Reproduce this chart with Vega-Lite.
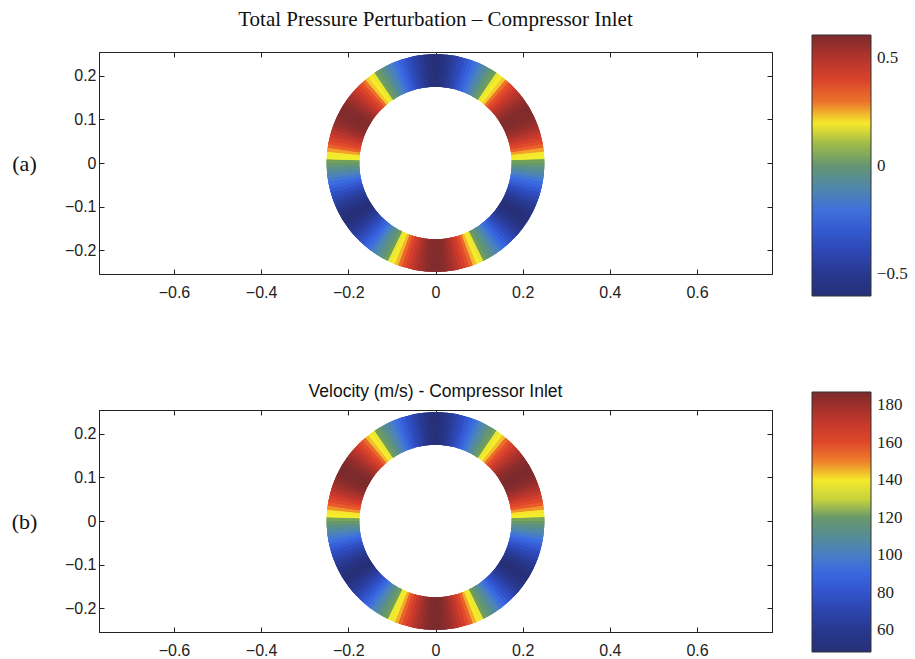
{
  "$schema": "https://vega.github.io/schema/vega-lite/v6.json",
  "background": "white",
  "padding": {"left": 10, "top": 8, "right": 5, "bottom": 2},
  "config": {
    "view": {"stroke": "#222", "strokeWidth": 1},
    "axis": {"grid": false, "domainColor": "#222", "tickColor": "#222", "labelFont": "Liberation Sans", "labelFontSize": 16, "labelColor": "#222", "tickSize": -5},
    "legend": {"labelFont": "Liberation Serif", "labelFontSize": 17, "labelColor": "#222"}
  },
  "datasets": {
    "ring": [
      {"a":0,"b":2,"p":-0.594,"v":49.2},{"a":2,"b":4,"p":-0.570,"v":52.0},{"a":4,"b":6,"p":-0.540,"v":55.4},{"a":6,"b":8,"p":-0.505,"v":59.5},
      {"a":8,"b":10,"p":-0.467,"v":63.9},{"a":10,"b":12,"p":-0.428,"v":68.4},{"a":12,"b":14,"p":-0.388,"v":73.0},{"a":14,"b":16,"p":-0.347,"v":77.7},
      {"a":16,"b":18,"p":-0.305,"v":82.6},{"a":18,"b":20,"p":-0.262,"v":87.5},{"a":20,"b":22,"p":-0.218,"v":92.6},{"a":22,"b":24,"p":-0.173,"v":97.8},
      {"a":24,"b":26,"p":-0.126,"v":103.2},{"a":26,"b":28,"p":-0.085,"v":107.9},{"a":28,"b":30,"p":-0.040,"v":113.1},{"a":30,"b":32,"p":0.008,"v":118.7},
      {"a":32,"b":34,"p":0.069,"v":125.7},{"a":34,"b":36,"p":0.129,"v":132.6},{"a":36,"b":38,"p":0.188,"v":139.5},{"a":38,"b":40,"p":0.245,"v":146.0},
      {"a":40,"b":42,"p":0.300,"v":152.4},{"a":42,"b":44,"p":0.351,"v":158.3},{"a":44,"b":46,"p":0.399,"v":163.8},{"a":46,"b":48,"p":0.443,"v":168.9},
      {"a":48,"b":50,"p":0.482,"v":173.4},{"a":50,"b":52,"p":0.516,"v":177.3},{"a":52,"b":54,"p":0.544,"v":180.5},{"a":54,"b":56,"p":0.567,"v":183.2},
      {"a":56,"b":58,"p":0.584,"v":185.1},{"a":58,"b":60,"p":0.595,"v":186.4},{"a":60,"b":62,"p":0.600,"v":187.0},{"a":62,"b":64,"p":0.598,"v":186.8},
      {"a":64,"b":66,"p":0.590,"v":185.8},{"a":66,"b":68,"p":0.576,"v":184.2},{"a":68,"b":70,"p":0.555,"v":181.8},{"a":70,"b":72,"p":0.528,"v":178.7},
      {"a":72,"b":74,"p":0.496,"v":175.0},{"a":74,"b":76,"p":0.458,"v":170.6},{"a":76,"b":78,"p":0.416,"v":165.8},{"a":78,"b":80,"p":0.369,"v":160.3},
      {"a":80,"b":82,"p":0.318,"v":154.5},{"a":82,"b":84,"p":0.263,"v":148.1},{"a":84,"b":86,"p":0.206,"v":141.5},{"a":86,"b":88,"p":0.146,"v":134.6},
      {"a":88,"b":90,"p":0.085,"v":127.6},{"a":90,"b":92,"p":0.015,"v":119.5},{"a":92,"b":94,"p":-0.040,"v":113.1},{"a":94,"b":96,"p":-0.079,"v":108.6},
      {"a":96,"b":98,"p":-0.126,"v":103.2},{"a":98,"b":100,"p":-0.173,"v":97.8},{"a":100,"b":102,"p":-0.218,"v":92.6},{"a":102,"b":104,"p":-0.262,"v":87.5},
      {"a":104,"b":106,"p":-0.305,"v":82.6},{"a":106,"b":108,"p":-0.347,"v":77.7},{"a":108,"b":110,"p":-0.388,"v":73.0},{"a":110,"b":112,"p":-0.428,"v":68.4},
      {"a":112,"b":114,"p":-0.467,"v":63.9},{"a":114,"b":116,"p":-0.505,"v":59.5},{"a":116,"b":118,"p":-0.540,"v":55.4},{"a":118,"b":120,"p":-0.570,"v":52.0},
      {"a":120,"b":122,"p":-0.594,"v":49.2},{"a":122,"b":124,"p":-0.594,"v":49.2},{"a":124,"b":126,"p":-0.568,"v":52.2},{"a":126,"b":128,"p":-0.535,"v":56.0},
      {"a":128,"b":130,"p":-0.497,"v":60.4},{"a":130,"b":132,"p":-0.457,"v":65.0},{"a":132,"b":134,"p":-0.415,"v":69.9},{"a":134,"b":136,"p":-0.371,"v":74.9},
      {"a":136,"b":138,"p":-0.326,"v":80.1},{"a":138,"b":140,"p":-0.280,"v":85.4},{"a":140,"b":142,"p":-0.233,"v":90.9},{"a":142,"b":144,"p":-0.184,"v":96.5},
      {"a":144,"b":146,"p":-0.134,"v":102.3},{"a":146,"b":148,"p":-0.087,"v":107.7},{"a":148,"b":150,"p":-0.043,"v":112.8},{"a":150,"b":152,"p":0.000,"v":117.8},
      {"a":152,"b":154,"p":0.065,"v":125.3},{"a":154,"b":156,"p":0.129,"v":132.6},{"a":156,"b":158,"p":0.192,"v":139.9},{"a":158,"b":160,"p":0.252,"v":146.8},
      {"a":160,"b":162,"p":0.309,"v":153.4},{"a":162,"b":164,"p":0.363,"v":159.6},{"a":164,"b":166,"p":0.413,"v":165.4},{"a":166,"b":168,"p":0.457,"v":170.5},
      {"a":168,"b":170,"p":0.497,"v":175.1},{"a":170,"b":172,"p":0.530,"v":178.9},{"a":172,"b":174,"p":0.557,"v":182.0},{"a":174,"b":176,"p":0.578,"v":184.5},
      {"a":176,"b":178,"p":0.592,"v":186.1},{"a":178,"b":180,"p":0.599,"v":186.9},
      {"a":180,"b":182,"p":0.599,"v":186.9},{"a":182,"b":184,"p":0.592,"v":186.1},{"a":184,"b":186,"p":0.578,"v":184.5},{"a":186,"b":188,"p":0.557,"v":182.0},
      {"a":188,"b":190,"p":0.530,"v":178.9},{"a":190,"b":192,"p":0.497,"v":175.1},{"a":192,"b":194,"p":0.457,"v":170.5},{"a":194,"b":196,"p":0.413,"v":165.4},
      {"a":196,"b":198,"p":0.363,"v":159.6},{"a":198,"b":200,"p":0.309,"v":153.4},{"a":200,"b":202,"p":0.252,"v":146.8},{"a":202,"b":204,"p":0.192,"v":139.9},
      {"a":204,"b":206,"p":0.129,"v":132.6},{"a":206,"b":208,"p":0.065,"v":125.3},{"a":208,"b":210,"p":0.000,"v":117.8},{"a":210,"b":212,"p":-0.043,"v":112.8},
      {"a":212,"b":214,"p":-0.087,"v":107.7},{"a":214,"b":216,"p":-0.134,"v":102.3},{"a":216,"b":218,"p":-0.184,"v":96.5},{"a":218,"b":220,"p":-0.233,"v":90.9},
      {"a":220,"b":222,"p":-0.280,"v":85.4},{"a":222,"b":224,"p":-0.326,"v":80.1},{"a":224,"b":226,"p":-0.371,"v":74.9},{"a":226,"b":228,"p":-0.415,"v":69.9},
      {"a":228,"b":230,"p":-0.457,"v":65.0},{"a":230,"b":232,"p":-0.497,"v":60.4},{"a":232,"b":234,"p":-0.535,"v":56.0},{"a":234,"b":236,"p":-0.568,"v":52.2},
      {"a":236,"b":238,"p":-0.594,"v":49.2},{"a":238,"b":240,"p":-0.594,"v":49.2},{"a":240,"b":242,"p":-0.570,"v":52.0},{"a":242,"b":244,"p":-0.540,"v":55.4},
      {"a":244,"b":246,"p":-0.505,"v":59.5},{"a":246,"b":248,"p":-0.467,"v":63.9},{"a":248,"b":250,"p":-0.428,"v":68.4},{"a":250,"b":252,"p":-0.388,"v":73.0},
      {"a":252,"b":254,"p":-0.347,"v":77.7},{"a":254,"b":256,"p":-0.305,"v":82.6},{"a":256,"b":258,"p":-0.262,"v":87.5},{"a":258,"b":260,"p":-0.218,"v":92.6},
      {"a":260,"b":262,"p":-0.173,"v":97.8},{"a":262,"b":264,"p":-0.126,"v":103.2},{"a":264,"b":266,"p":-0.079,"v":108.6},{"a":266,"b":268,"p":-0.040,"v":113.1},
      {"a":268,"b":270,"p":0.015,"v":119.5},{"a":270,"b":272,"p":0.085,"v":127.6},{"a":272,"b":274,"p":0.146,"v":134.6},{"a":274,"b":276,"p":0.206,"v":141.5},
      {"a":276,"b":278,"p":0.263,"v":148.1},{"a":278,"b":280,"p":0.318,"v":154.5},{"a":280,"b":282,"p":0.369,"v":160.3},{"a":282,"b":284,"p":0.416,"v":165.8},
      {"a":284,"b":286,"p":0.458,"v":170.6},{"a":286,"b":288,"p":0.496,"v":175.0},{"a":288,"b":290,"p":0.528,"v":178.7},{"a":290,"b":292,"p":0.555,"v":181.8},
      {"a":292,"b":294,"p":0.576,"v":184.2},{"a":294,"b":296,"p":0.590,"v":185.8},{"a":296,"b":298,"p":0.598,"v":186.8},{"a":298,"b":300,"p":0.600,"v":187.0},
      {"a":300,"b":302,"p":0.595,"v":186.4},{"a":302,"b":304,"p":0.584,"v":185.1},{"a":304,"b":306,"p":0.567,"v":183.2},{"a":306,"b":308,"p":0.544,"v":180.5},
      {"a":308,"b":310,"p":0.516,"v":177.3},{"a":310,"b":312,"p":0.482,"v":173.4},{"a":312,"b":314,"p":0.443,"v":168.9},{"a":314,"b":316,"p":0.399,"v":163.8},
      {"a":316,"b":318,"p":0.351,"v":158.3},{"a":318,"b":320,"p":0.300,"v":152.4},{"a":320,"b":322,"p":0.245,"v":146.0},{"a":322,"b":324,"p":0.188,"v":139.5},
      {"a":324,"b":326,"p":0.129,"v":132.6},{"a":326,"b":328,"p":0.069,"v":125.7},{"a":328,"b":330,"p":0.008,"v":118.7},{"a":330,"b":332,"p":-0.040,"v":113.1},
      {"a":332,"b":334,"p":-0.085,"v":107.9},{"a":334,"b":336,"p":-0.126,"v":103.2},{"a":336,"b":338,"p":-0.173,"v":97.8},{"a":338,"b":340,"p":-0.218,"v":92.6},
      {"a":340,"b":342,"p":-0.262,"v":87.5},{"a":342,"b":344,"p":-0.305,"v":82.6},{"a":344,"b":346,"p":-0.347,"v":77.7},{"a":346,"b":348,"p":-0.388,"v":73.0},
      {"a":348,"b":350,"p":-0.428,"v":68.4},{"a":350,"b":352,"p":-0.467,"v":63.9},{"a":352,"b":354,"p":-0.505,"v":59.5},{"a":354,"b":356,"p":-0.540,"v":55.4},
      {"a":356,"b":358,"p":-0.570,"v":52.0},{"a":358,"b":360,"p":-0.594,"v":49.2}
    ]
  },
  "vconcat": [
    {
      "width": 673,
      "height": 222,
      "title": {"text": "Total Pressure Perturbation – Compressor Inlet", "font": "Liberation Serif", "fontSize": 21, "fontWeight": "normal", "color": "#111", "offset": 5, "anchor": "middle"},
      "data": {"name": "ring"},
      "layer": [
        {
          "mark": {"type": "arc"},
          "encoding": {
            "x": {"datum": 0, "type": "quantitative", "scale": {"domain": [-0.772, 0.772], "nice": false, "zero": false},
                  "axis": {"orient": "bottom", "values": [-0.6, -0.4, -0.2, 0, 0.2, 0.4, 0.6], "format": ".1~f", "title": null, "labelPadding": 15}},
            "y": {"datum": 0, "type": "quantitative", "scale": {"domain": [-0.255, 0.255], "nice": false, "zero": false},
                  "axis": {"orient": "left", "values": [-0.2, -0.1, 0, 0.1, 0.2], "format": ".1~f", "labelPadding": 8,
                           "title": "(a)", "titleAngle": 0, "titleX": -75, "titleY": 111, "titleAlign": "center", "titleBaseline": "middle",
                           "titleFont": "Liberation Serif", "titleFontSize": 22, "titleFontWeight": "normal", "titleColor": "#111"}},
            "theta": {"field": "a", "type": "quantitative", "stack": null, "scale": {"domain": [0, 360], "range": [0, 6.283185307]}},
            "theta2": {"field": "b"},
            "radius": {"datum": 0.25, "type": "quantitative", "scale": {"type": "linear", "domain": [0, 0.255], "range": [0, 111], "zero": true, "nice": false}},
            "radius2": {"datum": 0.175},
            "color": {"field": "p", "type": "quantitative",
                      "scale": {"domain": [-0.6, -0.479, -0.346, -0.226, -0.135, -0.068, 0.004, 0.089, 0.119, 0.161, 0.234, 0.270, 0.330, 0.427, 0.523, 0.608],
                                "range": ["#262f78","#293a94","#2f4ec4","#3a6ae4","#4a82c0","#558c98","#649670","#74a058","#e4e432","#f6f02c","#f4e22c","#f0902a","#e8542a","#d43c2c","#aa322c","#7c2a2c"],
                                "interpolate": "rgb"},
                      "legend": {"type": "gradient", "orient": "none", "legendX": 713, "legendY": -17, "direction": "vertical", "gradientLength": 261, "gradientThickness": 59,
                                 "title": null, "values": [-0.5, 0, 0.5], "format": ".1~f", "labelOffset": 6, "labelOverlap": false,
                                 "gradientStrokeColor": "#333", "gradientStrokeWidth": 1}}
          }
        },
        {
          "mark": {"type": "arc"},
          "encoding": {
            "x": {"datum": 0, "type": "quantitative", "axis": null},
            "y": {"datum": 0, "type": "quantitative", "axis": null},
            "theta": {"field": "a", "type": "quantitative", "stack": null},
            "theta2": {"field": "b"},
            "radius": {"datum": 0.25, "type": "quantitative"},
            "radius2": {"datum": 0.175},
            "color": {"field": "p", "type": "quantitative", "legend": null}
          }
        },
        {
          "mark": {"type": "arc"},
          "encoding": {
            "x": {"datum": 0, "type": "quantitative", "axis": null},
            "y": {"datum": 0, "type": "quantitative", "axis": null},
            "theta": {"field": "a", "type": "quantitative", "stack": null},
            "theta2": {"field": "b"},
            "radius": {"datum": 0.25, "type": "quantitative"},
            "radius2": {"datum": 0.175},
            "color": {"field": "p", "type": "quantitative", "legend": null}
          }
        },
        {
          "mark": {"type": "point", "opacity": 0},
          "encoding": {
            "x": {"datum": 0, "type": "quantitative", "axis": {"orient": "top", "values": [-0.6, -0.4, -0.2, 0, 0.2, 0.4, 0.6], "labels": false, "title": null}},
            "y": {"datum": 0, "type": "quantitative", "axis": {"orient": "right", "values": [-0.2, -0.1, 0, 0.1, 0.2], "labels": false, "title": null}}
          }
        }
      ],
      "resolve": {"axis": {"x": "independent", "y": "independent"}}
    },
    {
      "width": 673,
      "height": 222,
      "title": {"text": "Velocity (m/s) - Compressor Inlet", "font": "Liberation Sans", "fontSize": 17.5, "fontWeight": "normal", "color": "#111", "offset": -8, "anchor": "middle"},
      "data": {"name": "ring"},
      "layer": [
        {
          "mark": {"type": "arc"},
          "encoding": {
            "x": {"datum": 0, "type": "quantitative", "scale": {"domain": [-0.772, 0.772], "nice": false, "zero": false},
                  "axis": {"orient": "bottom", "values": [-0.6, -0.4, -0.2, 0, 0.2, 0.4, 0.6], "format": ".1~f", "title": null, "labelPadding": 15}},
            "y": {"datum": 0, "type": "quantitative", "scale": {"domain": [-0.255, 0.255], "nice": false, "zero": false},
                  "axis": {"orient": "left", "values": [-0.2, -0.1, 0, 0.1, 0.2], "format": ".1~f", "labelPadding": 8,
                           "title": "(b)", "titleAngle": 0, "titleX": -75, "titleY": 111, "titleAlign": "center", "titleBaseline": "middle",
                           "titleFont": "Liberation Serif", "titleFontSize": 22, "titleFontWeight": "normal", "titleColor": "#111"}},
            "theta": {"field": "a", "type": "quantitative", "stack": null, "scale": {"domain": [0, 360], "range": [0, 6.283185307]}},
            "theta2": {"field": "b"},
            "radius": {"datum": 0.25, "type": "quantitative", "scale": {"type": "linear", "domain": [0, 0.255], "range": [0, 111], "zero": true, "nice": false}},
            "radius2": {"datum": 0.175},
            "color": {"field": "v", "type": "quantitative",
                      "scale": {"domain": [48.5, 62.35, 77.6, 91.4, 101.8, 109.4, 117.75, 127.4, 130.9, 135.8, 144.1, 148.2, 155.1, 166.2, 177.3, 187.0],
                                "range": ["#262f78","#293a94","#2f4ec4","#3a6ae4","#4a82c0","#558c98","#649670","#74a058","#e4e432","#f6f02c","#f4e22c","#f0902a","#e8542a","#d43c2c","#aa322c","#7c2a2c"],
                                "interpolate": "rgb"},
                      "legend": {"type": "gradient", "orient": "none", "legendX": 713, "legendY": -18, "direction": "vertical", "gradientLength": 260, "gradientThickness": 59,
                                 "title": null, "values": [60, 80, 100, 120, 140, 160, 180], "format": "d", "labelOffset": 6, "labelOverlap": false,
                                 "gradientStrokeColor": "#333", "gradientStrokeWidth": 1}}
          }
        },
        {
          "mark": {"type": "arc"},
          "encoding": {
            "x": {"datum": 0, "type": "quantitative", "axis": null},
            "y": {"datum": 0, "type": "quantitative", "axis": null},
            "theta": {"field": "a", "type": "quantitative", "stack": null},
            "theta2": {"field": "b"},
            "radius": {"datum": 0.25, "type": "quantitative"},
            "radius2": {"datum": 0.175},
            "color": {"field": "v", "type": "quantitative", "legend": null}
          }
        },
        {
          "mark": {"type": "arc"},
          "encoding": {
            "x": {"datum": 0, "type": "quantitative", "axis": null},
            "y": {"datum": 0, "type": "quantitative", "axis": null},
            "theta": {"field": "a", "type": "quantitative", "stack": null},
            "theta2": {"field": "b"},
            "radius": {"datum": 0.25, "type": "quantitative"},
            "radius2": {"datum": 0.175},
            "color": {"field": "v", "type": "quantitative", "legend": null}
          }
        },
        {
          "mark": {"type": "point", "opacity": 0},
          "encoding": {
            "x": {"datum": 0, "type": "quantitative", "axis": {"orient": "top", "values": [-0.6, -0.4, -0.2, 0, 0.2, 0.4, 0.6], "labels": false, "title": null}},
            "y": {"datum": 0, "type": "quantitative", "axis": {"orient": "right", "values": [-0.2, -0.1, 0, 0.1, 0.2], "labels": false, "title": null}}
          }
        }
      ],
      "resolve": {"axis": {"x": "independent", "y": "independent"}}
    }
  ],
  "spacing": 136,
  "bounds": "flush",
  "resolve": {"scale": {"color": "independent"}, "legend": {"color": "independent"}}
}
